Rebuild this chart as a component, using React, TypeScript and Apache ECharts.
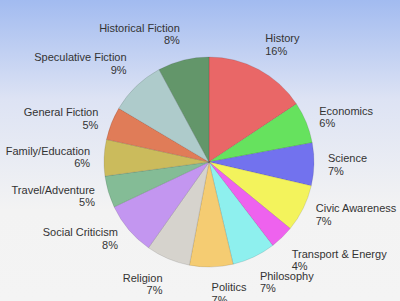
import React, { useEffect, useRef } from "react";
import * as echarts from "echarts";

const categories = [
  "History",
  "Economics",
  "Science",
  "Civic Awareness",
  "Transport & Energy",
  "Philosophy",
  "Politics",
  "Religion",
  "Social Criticism",
  "Travel/Adventure",
  "Family/Education",
  "General Fiction",
  "Speculative Fiction",
  "Historical Fiction",
];

const values = [157, 64, 66, 73, 37, 67, 67, 68, 82, 49, 56, 51, 86, 79];

const colors = [
  "#e96767",
  "#66e25e",
  "#7272ee",
  "#f3f35c",
  "#ee62ee",
  "#8ef0ee",
  "#f5cc72",
  "#d6d3cd",
  "#c396f0",
  "#84bc96",
  "#cbbb5c",
  "#e07c58",
  "#aecbcb",
  "#63966a",
];

const CX = 209;
const CY = 162;
const R = 105;
const LABEL_R = 119;

export default function App() {
  const ref = useRef<HTMLDivElement>(null);

  useEffect(() => {
    if (!ref.current) return;
    const chart = echarts.init(ref.current, null, { renderer: "svg" });
    const total = values.reduce((a, b) => a + b, 0);
    const mids: number[] = [];
    let acc = 0;
    values.forEach((v) => {
      mids.push(((acc + v / 2) / total) * Math.PI * 2);
      acc += v;
    });

    chart.setOption({
      animation: false,
      backgroundColor: {
        type: "linear",
        x: 0,
        y: 0,
        x2: 0,
        y2: 1,
        colorStops: [
          { offset: 0, color: "#a2bbf0" },
          { offset: 0.33, color: "#dde3f4" },
          { offset: 0.7, color: "#f3f3f3" },
          { offset: 1, color: "#f4f4f4" },
        ],
      },
      series: [
        {
          type: "pie",
          center: [CX, CY],
          radius: R,
          startAngle: 90,
          clockwise: true,
          avoidLabelOverlap: false,
          itemStyle: {
            borderColor: "rgba(0,0,0,0.18)",
            borderWidth: 0.6,
          },
          label: {
            show: true,
            position: "outside",
            fontFamily: "Liberation Sans, Arial, sans-serif",
            fontSize: 11,
            lineHeight: 12.5,
            color: "#333333",
            formatter: (p: any) => `${p.name}\n${Math.round(p.percent)}%`,
          },
          labelLine: { show: false },
          emphasis: { disabled: true },
          labelLayout: (p: any) => {
            const a = mids[p.dataIndex];
            const dx = Math.sin(a);
            const dy = -Math.cos(a);
            const x = CX + LABEL_R * dx;
            const y = CY + LABEL_R * dy;
            let verticalAlign = "middle";
            if (Math.abs(dy) > 0.7) verticalAlign = dy < 0 ? "bottom" : "top";
            return {
              x,
              y,
              align: dx >= 0 ? "left" : "right",
              verticalAlign,
            };
          },
          data: categories.map((name, i) => ({
            name,
            value: values[i],
            itemStyle: { color: colors[i] },
          })),
        },
      ],
    });
    return () => chart.dispose();
  }, []);

  return (
    <div
      ref={ref}
      style={{ position: "absolute", left: 0, top: 0, width: 400, height: 301 }}
    />
  );
}
